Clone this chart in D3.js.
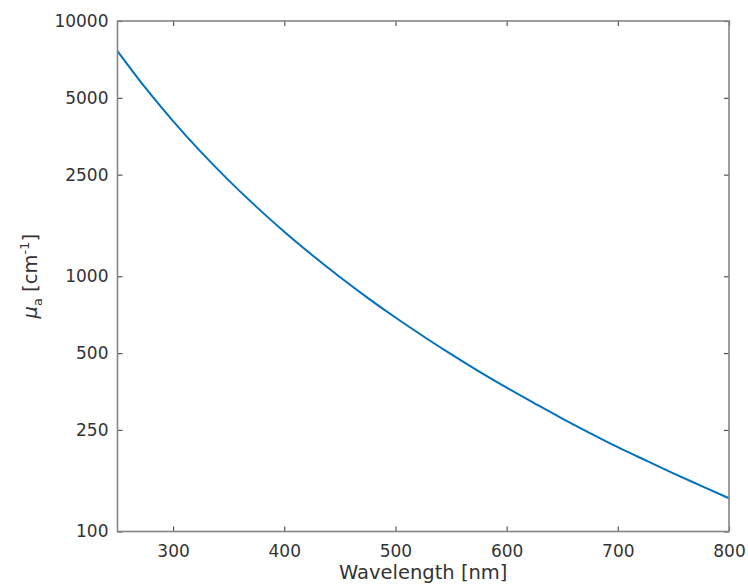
<!DOCTYPE html>
<html>
<head>
<meta charset="utf-8">
<script src="https://cdn.jsdelivr.net/npm/d3@7"></script>
<style>
  html, body { margin: 0; padding: 0; background: #fff; }
  svg text { font-family: "DejaVu Sans", sans-serif; }
</style>
</head>
<body>
<svg id="chart" width="748" height="587"></svg>
<script>
// Data
const wavelengths = [250, 275, 300, 325, 350, 375, 400, 425, 450, 475, 500, 525, 550,
                     575, 600, 625, 650, 675, 700, 725, 750, 775, 800];
const muA = [7630, 5480, 4055, 3070, 2375, 1870, 1494, 1211, 993, 823, 689, 582, 495,
             424, 366, 318, 277, 243, 214, 190, 169, 151, 135];
const xTicks = [300, 400, 500, 600, 700, 800];
const yTicks = [100, 250, 500, 1000, 2500, 5000, 10000];
const xDomain = [250, 800];
const yDomain = [100, 10000];

const svg = d3.select("#chart");
const L = 117.5, R = 729, T = 21, B = 531.5;

const x = d3.scaleLinear().domain(xDomain).range([L, R]);
const y = d3.scaleLog().domain(yDomain).range([B, T]);

const axisColor = "#858585";
const textColor = "#333";
const tickLen = 5;

// Curve
const data = wavelengths.map((w, i) => ({ w, v: muA[i] }));
svg.append("path")
  .datum(data)
  .attr("fill", "none")
  .attr("stroke", "#0072BD")
  .attr("stroke-width", 2)
  .attr("d", d3.line().x(d => x(d.w)).y(d => y(d.v)).curve(d3.curveMonotoneX));

// Axes with inward ticks (bottom/top/left/right)
function styleAxis(g) {
  g.select(".domain").remove();
  g.selectAll(".tick line").attr("stroke", "#555").attr("stroke-width", 1.2);
  g.selectAll(".tick text").attr("fill", textColor).style("font-size", "17px")
    .style("font-family", "'DejaVu Sans', sans-serif");
}

const xb = svg.append("g").attr("transform", `translate(0,${B})`)
  .call(d3.axisBottom(x).tickValues(xTicks).tickFormat(d3.format("d"))
    .tickSizeInner(-tickLen).tickSizeOuter(0).tickPadding(13));
styleAxis(xb);

const xt = svg.append("g").attr("transform", `translate(0,${T})`)
  .call(d3.axisTop(x).tickValues(xTicks).tickFormat("")
    .tickSizeInner(-tickLen).tickSizeOuter(0));
styleAxis(xt);

const yl = svg.append("g").attr("transform", `translate(${L},0)`)
  .call(d3.axisLeft(y).tickValues(yTicks).tickFormat(d3.format("d"))
    .tickSizeInner(-tickLen).tickSizeOuter(0).tickPadding(9));
styleAxis(yl);

const yr = svg.append("g").attr("transform", `translate(${R},0)`)
  .call(d3.axisRight(y).tickValues(yTicks).tickFormat("")
    .tickSizeInner(-tickLen).tickSizeOuter(0));
styleAxis(yr);

// Box
svg.append("rect")
  .attr("x", L).attr("y", T)
  .attr("width", R - L).attr("height", B - T)
  .attr("fill", "none")
  .attr("stroke", axisColor)
  .attr("stroke-width", 1.6);

// X label
svg.append("text")
  .attr("x", (L + R) / 2)
  .attr("y", 579)
  .attr("text-anchor", "middle")
  .attr("fill", textColor)
  .style("font-size", "19.5px")
  .text("Wavelength [nm]");

// Y label (rotated) with subscript and superscript
const yLab = svg.append("text")
  .attr("transform", `translate(37,${(T + B) / 2}) rotate(-90)`)
  .attr("text-anchor", "middle")
  .attr("fill", textColor)
  .style("font-size", "19.5px");
yLab.append("tspan").style("font-style", "italic").text("μ");
yLab.append("tspan").attr("dy", 5).style("font-size", "13px").text("a");
yLab.append("tspan").attr("dy", -5).text(" [cm");
yLab.append("tspan").attr("dy", -8).style("font-size", "13px").text("-1");
yLab.append("tspan").attr("dy", 8).text("]");
</script>
</body>
</html>
